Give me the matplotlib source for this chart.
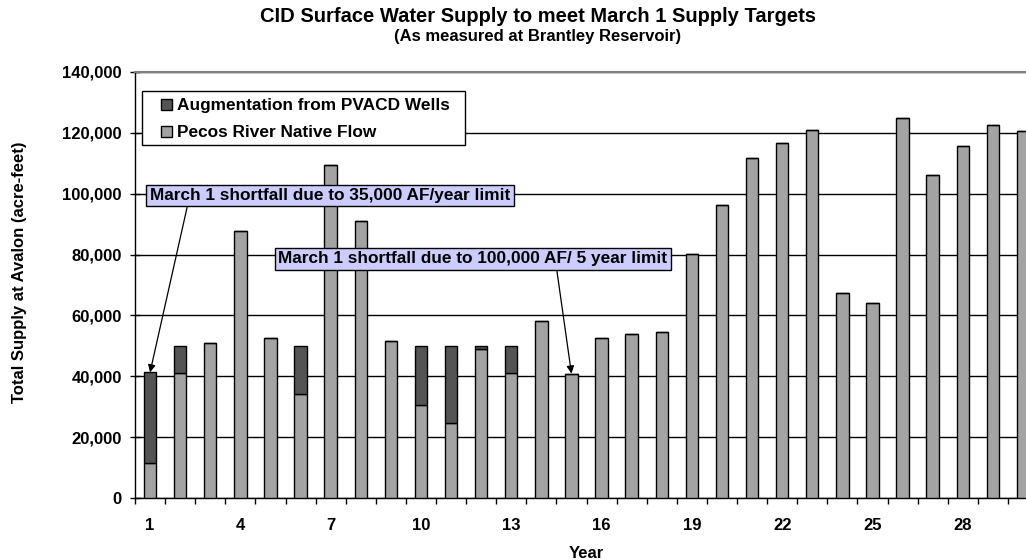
import matplotlib
matplotlib.use("Agg")
import matplotlib.pyplot as plt
from matplotlib.patches import Patch, Rectangle
from matplotlib.legend_handler import HandlerPatch
import numpy as np

plt.rcParams['font.family'] = ['Liberation Sans', 'DejaVu Sans']
plt.rcParams['font.weight'] = 'bold'

years = list(range(1, 31))
native_flow = [11500, 41000, 51000, 87600, 52700, 34100, 109500, 91000, 51500, 30400,
               24700, 49000, 41100, 58200, 40900, 52700, 53800, 54400, 80300, 96400,
               111900, 116600, 121100, 67300, 64000, 125000, 106100, 115600, 122700, 120700]
augmentation = [29800, 9000, 0, 0, 0, 15900, 0, 0, 0, 19600,
                25300, 1000, 8900, 0, 0, 0, 0, 0, 0, 0,
                0, 0, 0, 0, 0, 0, 0, 0, 0, 0]
tick_labels_x = [1, 4, 7, 10, 13, 16, 19, 22, 25, 28]
yticks = [0, 20000, 40000, 60000, 80000, 100000, 120000, 140000]

title = "CID Surface Water Supply to meet March 1 Supply Targets"
subtitle = "(As measured at Brantley Reservoir)"
note1 = "March 1 shortfall due to 35,000 AF/year limit"
note2 = "March 1 shortfall due to 100,000 AF/ 5 year limit"

W, H = 1026, 560
fig = plt.figure(figsize=(W / 100, H / 100), dpi=100)
ax = fig.add_axes([135 / W, (H - 498) / H, 903 / W, 426 / H])

c_native = '#A3A3A3'
c_aug = '#545454'
x = np.array(years)
bw = 0.41
ax.bar(x, native_flow, width=bw, color=c_native, edgecolor='black', linewidth=1.0, zorder=3)
ax.bar(x, augmentation, width=bw, bottom=native_flow, color=c_aug, edgecolor='black',
       linewidth=1.0, zorder=3)

ax.set_xlim(0.5, len(years) + 0.5)
ax.set_ylim(0, 140000)
ax.set_yticks(yticks)
ax.set_yticklabels([f"{v:,}" for v in yticks], fontsize=12, fontweight='bold')
ax.yaxis.grid(True, color='black', linewidth=1.0, zorder=0)
ax.set_axisbelow(True)

ax.set_xticks(tick_labels_x)
ax.set_xticklabels([str(v) for v in tick_labels_x], fontsize=12, fontweight='bold')
ax.set_xticks(np.arange(0.5, len(years) + 1, 1.0), minor=True)
ax.tick_params(axis='x', which='major', length=0, pad=14.5)
ax.tick_params(axis='x', which='minor', length=4, direction='out', width=1)
ax.tick_params(axis='y', which='major', length=7, direction='inout', width=1, pad=6)

for s in ['left', 'bottom']:
    ax.spines[s].set_color('black')
    ax.spines[s].set_linewidth(1.0)
for s in ['top', 'right']:
    ax.spines[s].set_color('#808080')
    ax.spines[s].set_linewidth(1.5)

ax.set_xlabel("Year", fontsize=12, fontweight='bold', labelpad=9)
fig.text(20 / W, 1 - 272 / H, "Total Supply at Avalon (acre-feet)", rotation=90,
         ha='center', va='center', fontsize=12, fontweight='bold')

fig.text(538 / W, 1 - 16 / H, title, ha='center', va='center', fontsize=14.5, fontweight='bold')
fig.text(538 / W, 1 - 36 / H, subtitle, ha='center', va='center', fontsize=12, fontweight='bold')

# legend frame (Excel-style, wider horizontal padding)
frame = Rectangle((142 / W, 1 - 145 / H), (465 - 142) / W, (145 - 91) / H,
                  transform=fig.transFigure, facecolor='white', edgecolor='black',
                  linewidth=1.0, zorder=4.5, clip_on=False)
ax.add_patch(frame)


def square_patch(legend, orig_handle, xdescent, ydescent, width, height, fontsize):
    s = 11 * 72 / 100
    return Rectangle((-xdescent, -ydescent + (height - s) / 2), s, s)


handles = [Patch(facecolor=c_aug, edgecolor='black', label='Augmentation from PVACD Wells'),
           Patch(facecolor=c_native, edgecolor='black', label='Pecos River Native Flow')]
fs_leg = 12.4
leg = ax.legend(handles=handles, loc='upper left', bbox_to_anchor=(161 / W, 1 - 98 / H),
                bbox_transform=fig.transFigure, borderaxespad=0, borderpad=0,
                frameon=False, prop={'size': fs_leg, 'weight': 'bold'},
                handlelength=11 / (fs_leg * 100 / 72), handleheight=0.7,
                handletextpad=5 / (fs_leg * 100 / 72), labelspacing=0.7,
                handler_map={Patch: HandlerPatch(patch_func=square_patch)})
leg.set_zorder(5)

bbox_kw = dict(boxstyle='square,pad=0.2', fc='#CCCCFF', ec='black', lw=1.0)
arrow_kw = dict(arrowstyle='-|>', color='black', lw=0.9, mutation_scale=11,
                shrinkA=0, shrinkB=0)

i1 = 0
ax.annotate(note1, xy=(years[i1], native_flow[i1] + augmentation[i1]), xycoords='data',
            xytext=(330, H - 195.5), textcoords='figure pixels', ha='center', va='center',
            fontsize=12.4, fontweight='bold', bbox=bbox_kw,
            arrowprops=dict(relpos=(0.106, 0.0), **arrow_kw), zorder=6)
i2 = 14
ax.annotate(note2, xy=(years[i2], native_flow[i2] + augmentation[i2]), xycoords='data',
            xytext=(473, H - 258.7), textcoords='figure pixels', ha='center', va='center',
            fontsize=12.4, fontweight='bold', bbox=bbox_kw,
            arrowprops=dict(relpos=(0.714, 0.0), **arrow_kw), zorder=6)

fig.savefig("out.png", dpi=100)
